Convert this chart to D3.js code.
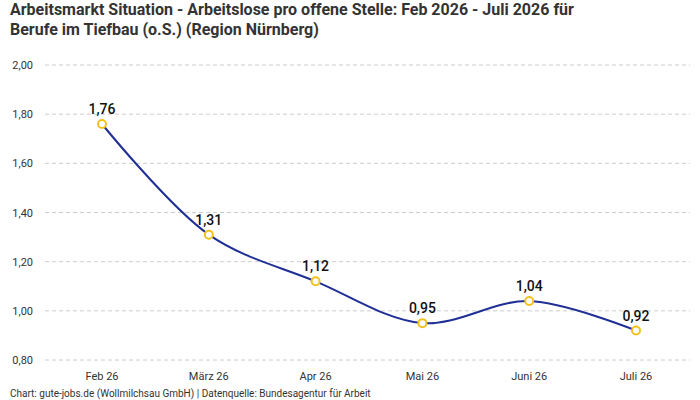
<!DOCTYPE html>
<html><head><meta charset="utf-8">
<script src="https://cdn.jsdelivr.net/npm/d3@7"></script>
<style>body{margin:0;background:#fff}svg{font-family:Roboto,"Noto Sans",sans-serif}</style>
</head><body><svg id="c" width="700" height="400"></svg>
<script>
const categories=["Feb 26","März 26","Apr 26","Mai 26","Juni 26","Juli 26"];
const values=[1.76,1.31,1.12,0.95,1.04,0.92];
const yTicks=[0.8,1.0,1.2,1.4,1.6,1.8,2.0];
const title=["Arbeitsmarkt Situation - Arbeitslose pro offene Stelle: Feb 2026 - Juli 2026 für","Berufe im Tiefbau (o.S.) (Region Nürnberg)"];
const footer="Chart: gute-jobs.de (Wollmilchsau GmbH) | Datenquelle: Bundesagentur für Arbeit";
const svg=d3.select("#c");
const fmt=v=>v.toFixed(2).replace(".",",");
const x=d3.scalePoint().domain(categories).range([102,636]);
const y=d3.scaleLinear().domain([0.8,2.0]).range([360,65]);
svg.append("g").selectAll("line").data(yTicks).join("line")
 .attr("x1",45).attr("x2",690).attr("y1",d=>y(d)).attr("y2",d=>y(d))
 .attr("stroke","#ccc").attr("stroke-dasharray","4,3");
svg.append("g").selectAll("text").data(yTicks).join("text")
 .attr("x",33).attr("y",d=>y(d)+4).attr("text-anchor","end").attr("font-size",11).attr("fill","#333").text(fmt);
svg.append("g").selectAll("text").data(categories).join("text")
 .attr("x",d=>x(d)).attr("y",380).attr("text-anchor","middle").attr("font-size",11).attr("fill","#333").text(d=>d);
const line=d3.line().x((d,i)=>x(categories[i])).y(d=>y(d)).curve(d3.curveCatmullRom.alpha(0.5));
svg.append("path").datum(values).attr("d",line).attr("fill","none").attr("stroke","#1f2f96").attr("stroke-width",2);
svg.append("g").selectAll("circle").data(values).join("circle")
 .attr("cx",(d,i)=>x(categories[i])).attr("cy",d=>y(d)).attr("r",4)
 .attr("fill","#fff").attr("stroke","#f2c21b").attr("stroke-width",2);
svg.append("g").selectAll("text").data(values).join("text")
 .attr("x",(d,i)=>x(categories[i])).attr("y",d=>y(d)-10).attr("text-anchor","middle")
 .attr("font-size",14).attr("font-weight",500).attr("fill","#111").text(fmt);
svg.append("g").selectAll("text").data(title).join("text")
 .attr("x",10).attr("y",(d,i)=>15+i*20).attr("font-size",16).attr("font-weight",700).attr("fill","#333").text(d=>d);
svg.append("text").attr("x",10).attr("y",397).attr("font-size",10).attr("fill","#333").text(footer);
</script></body></html>
